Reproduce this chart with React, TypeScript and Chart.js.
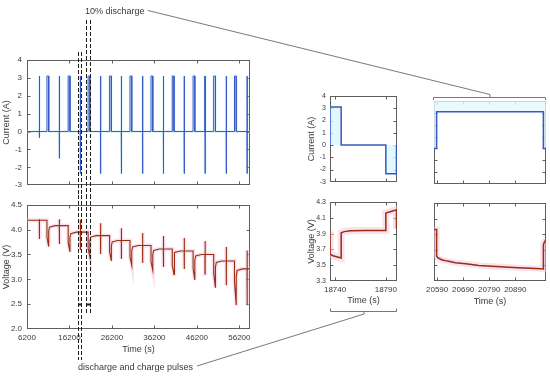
import React, { useEffect, useRef } from "react";
import { Chart, registerables } from "chart.js";

Chart.register(...registerables);

// ================= DATA =================
// Full record (left panels)
const mainTimeRange = [6200, 58700];
const mainTimeTicks = [6200, 16200, 26200, 36200, 46200, 56200];
const currentRange = [-3, 4];
const currentTicks = [-3, -2, -1, 0, 1, 2, 3, 4];
const mainVoltageRange = [2.0, 4.5];
const mainVoltageTicks = [2.0, 2.5, 3.0, 3.5, 4.0, 4.5];

// discharge / charge pulse pairs
const pulseTimes = [9100, 13800, 18740, 23500, 28400, 33400, 38300, 43200, 48100, 53100, 58000];
const pulseOffsets = [0, 10.5, 55, 65.5]; // discharge start, discharge end, charge start, charge end (s)
const pulseDischargeA = [3.1, 3.1, 3.1, 3.1, 3.1, 3.1, 3.1, 3.1, 3.1, 3.1, 3.1];
const pulseChargeA = [-0.35, -1.5, -2.35, -2.35, -2.35, -2.35, -2.35, -2.35, -2.35, -2.35, -2.35];
const pulseLowV = [3.81, 3.71, 3.59, 3.51, 3.41, 3.33, 3.25, 3.21, 3.11, 2.88, 2.48];
const pulseHighV = [4.21, 4.21, 4.2, 4.13, 4.03, 3.93, 3.87, 3.83, 3.77, 3.65, 3.58];

// 10% discharge steps
const stepTimes = [10900, 15900, 20590, 25650, 30450, 35400, 40400, 45300, 50150, 55050];
const stepDurationSec = 410;
const stepCurrentA = [3.1, 3.1, 3.1, 3.1, 3.1, 3.1, 3.1, 3.1, 3.1, 3.1];
const restLevelV = [4.19, 4.08, 3.95, 3.88, 3.78, 3.68, 3.61, 3.57, 3.5, 3.37, 3.21];
const stepStartV = [3.85, 3.74, 3.62, 3.55, 3.45, 3.35, 3.28, 3.22, 3.12, 2.95];
const stepEndV = [3.66, 3.55, 3.45, 3.37, 3.28, 3.18, 3.1, 2.99, 2.83, 2.48];
const stepJumpV = [3.97, 3.84, 3.77, 3.67, 3.57, 3.5, 3.45, 3.38, 3.24, 3.05];
const stepKneeV = [4.05, 3.92, 3.85, 3.75, 3.65, 3.58, 3.54, 3.47, 3.34, 3.18];
const recoveryTimes = [200, 1500]; // knee and settled times after step end (s)

// zoom: discharge and charge pulses
const pulseZoomRange = [18735, 18801];
const pulseZoomTicks = [18740, 18790];
const pulseZoomCurT = [18735, 18735, 18746, 18746, 18790, 18790, 18800.5, 18800.5];
const pulseZoomCurA = [0, 3.1, 3.1, 0, 0, -2.35, -2.35, 0];
const pulseZoomVoltT = [18735, 18735, 18738, 18746, 18746, 18749, 18755, 18770, 18790, 18790, 18795, 18800.5, 18800.5];
const pulseZoomVoltV = [3.93, 3.64, 3.62, 3.59, 3.91, 3.925, 3.935, 3.94, 3.94, 4.16, 4.18, 4.2, 3.96];
const zoomVoltageRange = [3.3, 4.3];
const zoomVoltageTicks = [3.3, 3.5, 3.7, 3.9, 4.1, 4.3];

// zoom: 10% discharge
const stepZoomRange = [20578, 21008];
const stepZoomTicks = [20590, 20690, 20790, 20890];
const stepZoomCurT = [20578, 20588, 20588, 20998, 20998, 21008];
const stepZoomCurA = [0, 0, 3.1, 3.1, 0, 0];
const stepZoomVoltT = [20578, 20588, 20588, 20592, 20600, 20610, 20630, 20660, 20700, 20750, 20800, 20850, 20900, 20950, 20998, 20998, 21002, 21008];
const stepZoomVoltV = [3.96, 3.96, 3.62, 3.6, 3.585, 3.57, 3.555, 3.535, 3.52, 3.5, 3.488, 3.478, 3.47, 3.462, 3.454, 3.765, 3.8, 3.83];

// annotation windows on the full record
const pulseWindowT = [18200, 18900];
const stepWindowT = [20080, 21030];
const windowMarkerV = 2.5;

// ================= STYLE =================
const FONT = "'Liberation Sans', Arial, Helvetica, sans-serif";
const TEXT = "#3a3a3a";
const FRAME = "#5e5e5e";
const BLUE = "#3559c4";
const RED = "#962f14";
const PINK = "rgba(248,196,218,0.5)";
const CYAN = "rgba(200,238,250,0.4)";
const TITLE_FONT = { family: FONT, size: 9 };

type Pt = { x: number; y: number };

function zip(xs: number[], ys: number[]): Pt[] {
  return xs.map((x, i) => ({ x, y: ys[i] }));
}

function events() {
  const ev: { t: number; kind: "p" | "s"; i: number }[] = [];
  pulseTimes.forEach((t, i) => ev.push({ t, kind: "p", i }));
  stepTimes.forEach((t, i) => ev.push({ t, kind: "s", i }));
  return ev.sort((a, b) => a.t - b.t);
}

function buildMainCurrent(): Pt[] {
  const pts: Pt[] = [{ x: mainTimeRange[0], y: 0 }];
  for (const e of events()) {
    const t = e.t;
    if (e.kind === "p") {
      const d = pulseDischargeA[e.i], c = pulseChargeA[e.i];
      pts.push(
        { x: t + pulseOffsets[0], y: 0 }, { x: t + pulseOffsets[0], y: d },
        { x: t + pulseOffsets[1], y: d }, { x: t + pulseOffsets[1], y: 0 },
        { x: t + pulseOffsets[2], y: 0 }, { x: t + pulseOffsets[2], y: c },
        { x: t + pulseOffsets[3], y: c }, { x: t + pulseOffsets[3], y: 0 }
      );
    } else {
      const a = stepCurrentA[e.i];
      pts.push({ x: t, y: 0 }, { x: t, y: a }, { x: t + stepDurationSec, y: a }, { x: t + stepDurationSec, y: 0 });
    }
  }
  pts.push({ x: mainTimeRange[1], y: 0 });
  return pts;
}

function buildMainVoltage(): Pt[] {
  const pts: Pt[] = [{ x: mainTimeRange[0], y: restLevelV[0] }];
  for (const e of events()) {
    const t = e.t;
    if (e.kind === "p") {
      const L = restLevelV[e.i], lo = pulseLowV[e.i], hi = pulseHighV[e.i];
      pts.push(
        { x: t + pulseOffsets[0], y: L }, { x: t + pulseOffsets[0], y: lo },
        { x: t + pulseOffsets[1], y: lo }, { x: t + pulseOffsets[1], y: L },
        { x: t + pulseOffsets[2], y: L }, { x: t + pulseOffsets[2], y: hi },
        { x: t + pulseOffsets[3], y: hi }, { x: t + pulseOffsets[3], y: L }
      );
    } else {
      const te = t + stepDurationSec;
      pts.push(
        { x: t, y: restLevelV[e.i] }, { x: t, y: stepStartV[e.i] },
        { x: te, y: stepEndV[e.i] }, { x: te, y: stepJumpV[e.i] },
        { x: te + recoveryTimes[0], y: stepKneeV[e.i] },
        { x: te + recoveryTimes[1], y: restLevelV[e.i + 1] }
      );
    }
  }
  pts.push({ x: mainTimeRange[1], y: restLevelV[restLevelV.length - 1] });
  return pts;
}

// ================= CHART HELPERS =================
interface AxisSpec {
  range: number[];
  ticks: number[];
  labels: boolean;
  decimals: number;
  size: number;
  title?: string;
  titlePad?: number;
  tickPad?: number;
  fontSize?: number;
}
interface PanelSpec {
  box: { x: number; y: number; w: number; h: number };
  padding: { left: number; top: number; right: number; bottom: number };
  x: AxisSpec;
  y: AxisSpec;
  datasets: () => any[];
  windows?: { lines: { t: number; y0: number; y1: number }[]; markers: { t0: number; t1: number; v: number }[] };
}

function axisOptions(a: AxisSpec, horizontal: boolean) {
  return {
    type: "linear",
    min: a.range[0],
    max: a.range[1],
    afterBuildTicks: (sc: any) => {
      sc.ticks = a.ticks.map((v) => ({ value: v }));
    },
    afterFit: (sc: any) => {
      if (horizontal) sc.height = a.size;
      else sc.width = a.size;
    },
    grid: { display: false, drawTicks: false },
    border: { display: false },
    ticks: {
      display: a.labels,
      padding: a.tickPad ?? 4,
      autoSkip: false,
      maxRotation: 0,
      minRotation: 0,
      color: TEXT,
      font: { family: FONT, size: a.fontSize ?? 8 },
      callback: (v: any) => Number(v).toFixed(a.decimals),
    },
    title: {
      display: !!a.title,
      text: a.title || "",
      color: TEXT,
      font: TITLE_FONT,
      padding: horizontal ? { top: 0, bottom: a.titlePad ?? 0 } : { top: a.titlePad ?? 0, bottom: 0 },
    },
  };
}

const framePlugin = {
  id: "frame",
  beforeDatasetsDraw(chart: any) {
    const { ctx, chartArea: a, scales } = chart;
    ctx.save();
    ctx.strokeStyle = FRAME;
    ctx.lineWidth = 1;
    const l = Math.round(a.left) + 0.5, t = Math.round(a.top) + 0.5;
    const r = Math.round(a.right) - 0.5, b = Math.round(a.bottom) - 0.5;
    ctx.strokeRect(l, t, r - l, b - t);
    const tl = 3;
    ctx.beginPath();
    scales.x.ticks.forEach((tk: any) => {
      const px = Math.round(scales.x.getPixelForValue(tk.value)) + 0.5;
      if (px <= l + 1 || px >= r - 1) return;
      ctx.moveTo(px, b); ctx.lineTo(px, b - tl);
      ctx.moveTo(px, t); ctx.lineTo(px, t + tl);
    });
    scales.y.ticks.forEach((tk: any) => {
      const py = Math.round(scales.y.getPixelForValue(tk.value)) + 0.5;
      if (py <= t + 1 || py >= b - 1) return;
      ctx.moveTo(l, py); ctx.lineTo(l + tl, py);
      ctx.moveTo(r, py); ctx.lineTo(r - tl, py);
    });
    ctx.stroke();
    ctx.restore();
  },
};

function makeWindowPlugin(w: PanelSpec["windows"]) {
  return {
    id: "windows",
    afterDraw(chart: any) {
      if (!w) return;
      const { ctx } = chart;
      const xs = chart.scales.x, ys = chart.scales.y;
      ctx.save();
      ctx.strokeStyle = "#1e1e1e";
      ctx.lineWidth = 1;
      ctx.setLineDash([4, 2]);
      for (const ln of w.lines) {
        const px = Math.round(xs.getPixelForValue(ln.t)) + 0.5;
        ctx.beginPath();
        ctx.moveTo(px, ln.y0);
        ctx.lineTo(px, ln.y1);
        ctx.stroke();
      }
      ctx.setLineDash([]);
      for (const m of w.markers) {
        const y = Math.round(ys.getPixelForValue(m.v)) + 0.5;
        const a = xs.getPixelForValue(m.t0), b = xs.getPixelForValue(m.t1);
        ctx.lineWidth = 2;
        ctx.beginPath();
        ctx.moveTo(a, y);
        ctx.lineTo(b, y);
        ctx.stroke();
      }
      ctx.restore();
    },
  };
}

// order: lower "order" drawn on top
function lineSet(data: Pt[], color: string, width: number, order: number, extra: any = {}) {
  return { data, borderColor: color, borderWidth: width, pointRadius: 0, fill: false, tension: 0, order, ...extra };
}

function Panel({ spec }: { spec: PanelSpec }) {
  const ref = useRef<HTMLCanvasElement>(null);
  useEffect(() => {
    const chart = new Chart(ref.current as HTMLCanvasElement, {
      type: "line",
      data: { datasets: spec.datasets() },
      options: {
        responsive: false,
        animation: false,
        events: [],
        layout: { padding: spec.padding },
        plugins: { legend: { display: false }, tooltip: { enabled: false } },
        scales: { x: axisOptions(spec.x, true), y: axisOptions(spec.y, false) } as any,
      },
      plugins: [framePlugin, makeWindowPlugin(spec.windows)],
    } as any);
    return () => chart.destroy();
  }, []);
  const { x, y, w, h } = spec.box;
  return (
    <canvas
      ref={ref}
      width={w}
      height={h}
      style={{ position: "absolute", left: x, top: y, width: w, height: h }}
    />
  );
}

// ================= PANELS =================
const mainCurrentPanel: PanelSpec = {
  box: { x: 0, y: 0, w: 260, h: 195 },
  padding: { left: 0, top: 60, right: 10, bottom: 8 },
  x: { range: mainTimeRange, ticks: mainTimeTicks, labels: false, decimals: 0, size: 0 },
  y: { range: currentRange, ticks: currentTicks, labels: true, decimals: 0, size: 27, title: "Current (A)", titlePad: 1.6, tickPad: 5 },
  datasets: () => {
    const d = buildMainCurrent();
    return [lineSet(d, BLUE, 1, 0), lineSet(d, CYAN, 3, 1, { clip: 0 })];
  },
  windows: {
    lines: [
      { t: pulseWindowT[0], y0: 52, y1: 195 },
      { t: pulseWindowT[1], y0: 52, y1: 195 },
      { t: stepWindowT[0], y0: 20, y1: 195 },
      { t: stepWindowT[1], y0: 20, y1: 195 },
    ],
    markers: [],
  },
};

const mainVoltagePanel: PanelSpec = {
  box: { x: 0, y: 195, w: 260, h: 190 },
  padding: { left: 0, top: 8, right: 10, bottom: 26 },
  x: { range: mainTimeRange, ticks: mainTimeTicks, labels: true, decimals: 0, size: 30, title: "Time (s)", titlePad: 3.6, tickPad: 4 },
  y: { range: mainVoltageRange, ticks: mainVoltageTicks, labels: true, decimals: 1, size: 27, title: "Voltage (V)", titlePad: 1.6, tickPad: 5 },
  datasets: () => {
    const d = buildMainVoltage();
    return [lineSet(d, RED, 1.1, 0), lineSet(d, PINK, 4, 1, { clip: 0 })];
  },
  windows: {
    lines: [
      { t: pulseWindowT[0], y0: 0, y1: 165 },
      { t: pulseWindowT[1], y0: 0, y1: 165 },
      { t: stepWindowT[0], y0: 0, y1: 118 },
      { t: stepWindowT[1], y0: 0, y1: 118 },
    ],
    markers: [
      { t0: pulseWindowT[0], t1: pulseWindowT[1], v: windowMarkerV },
      { t0: stepWindowT[0], t1: stepWindowT[1], v: windowMarkerV },
    ],
  },
};

const pulseCurrentPanel: PanelSpec = {
  box: { x: 295, y: 85, w: 110, h: 105 },
  padding: { left: 0, top: 11, right: 8, bottom: 8 },
  x: { range: pulseZoomRange, ticks: pulseZoomTicks, labels: false, decimals: 0, size: 0 },
  y: { range: currentRange, ticks: currentTicks, labels: true, decimals: 0, size: 35, title: "Current (A)", titlePad: 11, tickPad: 4, fontSize: 7 },
  datasets: () => [
    lineSet(zip(pulseZoomCurT, pulseZoomCurA), BLUE, 1.5, 0, { fill: { target: "origin" }, backgroundColor: "rgba(218,247,252,0.8)" }),
  ],
};

const pulseVoltagePanel: PanelSpec = {
  box: { x: 295, y: 190, w: 110, h: 125 },
  padding: { left: 0, top: 12, right: 8, bottom: 8 },
  x: { range: pulseZoomRange, ticks: pulseZoomTicks, labels: true, decimals: 0, size: 26, title: "Time (s)", titlePad: 0.6, tickPad: 4 },
  y: { range: zoomVoltageRange, ticks: zoomVoltageTicks, labels: true, decimals: 1, size: 35, title: "Voltage (V)", titlePad: 11, tickPad: 4, fontSize: 7 },
  datasets: () => {
    const d = zip(pulseZoomVoltT, pulseZoomVoltV);
    return [lineSet(d, RED, 1.5, 0), lineSet(d, PINK, 7, 1, { clip: 0 })];
  },
};

const stepCurrentPanel: PanelSpec = {
  box: { x: 420, y: 85, w: 130, h: 105 },
  padding: { left: 0, top: 16, right: 4, bottom: 6 },
  x: { range: stepZoomRange, ticks: stepZoomTicks, labels: false, decimals: 0, size: 0 },
  y: { range: currentRange, ticks: currentTicks, labels: false, decimals: 0, size: 14 },
  datasets: () => [
    lineSet(zip(stepZoomCurT, stepZoomCurA), BLUE, 1.5, 0, { fill: { target: "end" }, backgroundColor: "rgba(226,249,253,0.8)" }),
  ],
};

const stepVoltagePanel: PanelSpec = {
  box: { x: 420, y: 190, w: 130, h: 125 },
  padding: { left: 0, top: 13, right: 4, bottom: 8 },
  x: { range: stepZoomRange, ticks: stepZoomTicks, labels: true, decimals: 0, size: 26, title: "Time (s)", titlePad: 0, tickPad: 4 },
  y: { range: zoomVoltageRange, ticks: zoomVoltageTicks, labels: false, decimals: 1, size: 14 },
  datasets: () => {
    const d = zip(stepZoomVoltT, stepZoomVoltV);
    return [lineSet(d, RED, 1.5, 0), lineSet(d, PINK, 6, 1, { clip: 0 })];
  },
};

const panels = [mainCurrentPanel, mainVoltagePanel, pulseCurrentPanel, pulseVoltagePanel, stepCurrentPanel, stepVoltagePanel];

export default function App() {
  return (
    <div style={{ position: "absolute", left: 0, top: 0, width: 550, height: 385, background: "#fff", overflow: "hidden" }}>
      {panels.map((p, i) => (
        <Panel key={i} spec={p} />
      ))}
      <svg width={550} height={385} style={{ position: "absolute", left: 0, top: 0, pointerEvents: "none" }}>
        <g stroke="#6a6a6a" strokeWidth={0.9} fill="none">
          <line x1={148} y1={10.5} x2={490} y2={94.5} />
          <polyline points="433.5,100 433.5,97.5 545.5,97.5 545.5,100" />
          <line x1={490} y1={97.5} x2={490} y2={94.5} />
          <polyline points="330.5,308.5 330.5,311.5 396.5,311.5 396.5,308.5" />
          <line x1={364} y1={311.5} x2={364} y2={314} />
          <line x1={364} y1={314} x2={197} y2={366} />
        </g>
        <text x={85} y={13.5} fontFamily={FONT} fontSize={9} fill={TEXT}>
          10% discharge
        </text>
        <text x={78} y={369.5} fontFamily={FONT} fontSize={9} fill={TEXT}>
          discharge and charge pulses
        </text>
      </svg>
    </div>
  );
}
